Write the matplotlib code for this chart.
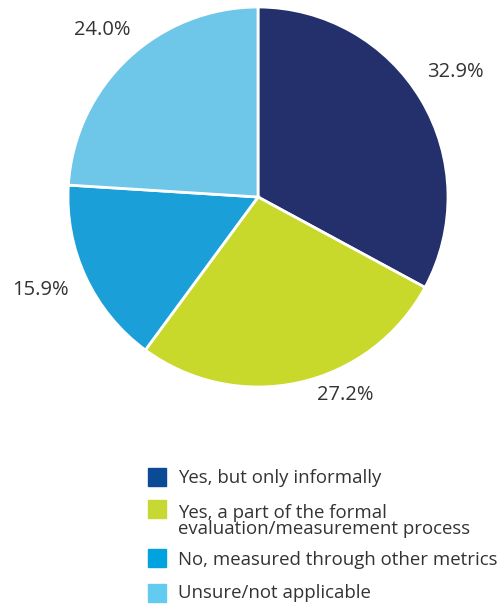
import matplotlib
matplotlib.use("Agg")
from matplotlib import pyplot as plt
from matplotlib.patches import Rectangle

plt.rcParams['font.family'] = ['Open Sans', 'DejaVu Sans']

categories = ["Yes, but only informally",
              "Yes, a part of the formal\nevaluation/measurement process",
              "No, measured through other metrics",
              "Unsure/not applicable"]
values = [32.9, 27.2, 15.9, 24.0]
pie_colors = ["#24306b", "#c9d92b", "#1a9fd8", "#6ec6e8"]
legend_colors = ["#0b4a94", "#c5d932", "#00a3e0", "#62cbef"]

W, H = 499, 606
fig = plt.figure(figsize=(W / 100, H / 100), dpi=100)

# pie centre (258, 197) px, radius 190 px
cx, cy, r = 258, 197, 190
ax = fig.add_axes([(cx - r) / W, 1 - (cy + r) / H, 2 * r / W, 2 * r / H])
ax.pie(values, colors=pie_colors, startangle=90, counterclock=False,
       wedgeprops=dict(edgecolor="white", linewidth=2))
ax.set_xlim(-1, 1)
ax.set_ylim(-1, 1)
ax.set_aspect("equal")
ax.axis("off")

# label positions, in pie radius units
label_pos = [(1.037, 0.658), (0.458, -1.042), (-1.147, -0.489), (-0.821, 0.879)]
for v, (x, y) in zip(values, label_pos):
    ax.text(x, y, f"{v:.1f}%", ha="center", va="center", fontsize=14.5,
            color="#333333", clip_on=False)

# legend drawn by hand
lax = fig.add_axes([0, 0, 1, 1])
lax.set_xlim(0, W)
lax.set_ylim(H, 0)
lax.axis("off")
rows_y = [476.5, 508.5, 558, 592.5]
text_y = [478, 521, 560, 593]
for lab, col, ry, ty in zip(categories, legend_colors, rows_y, text_y):
    lax.add_patch(Rectangle((148, ry - 9), 18, 18, color=col))
    lax.text(178, ty, lab, ha="left", va="center", fontsize=13.4,
             color="#333333", linespacing=0.9)

plt.savefig("out.png", dpi=100)
